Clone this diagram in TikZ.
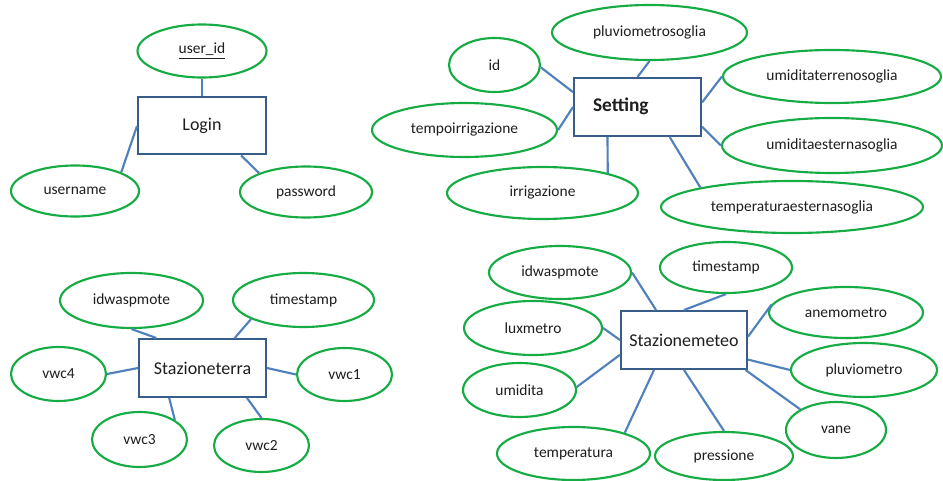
\documentclass[tikz,border=0pt]{standalone}
\usepackage{fontspec}
\setmainfont{Carlito}
\usetikzlibrary{shapes.geometric}
\definecolor{attrgreen}{RGB}{22,172,68}
\definecolor{linkblue}{RGB}{79,129,189}
\definecolor{boxblue}{RGB}{56,93,138}
\definecolor{txt}{RGB}{30,30,30}
\tikzset{
  attr/.style 2 args={ellipse, draw=attrgreen, line width=1.6pt, fill=white,
    minimum width=#1*0.75pt, minimum height=#2*0.75pt, inner sep=0pt,
    font=\fontsize{11.6}{13}\selectfont, text=txt},
  entity/.style={rectangle, draw=boxblue, line width=1.5pt, fill=white,
    minimum width=126*0.75pt, minimum height=57*0.75pt, inner sep=0pt,
    font=\fontsize{13.5}{15}\selectfont, text=txt},
  link/.style={draw=linkblue, line width=1.6pt}
}
\begin{document}
\begin{tikzpicture}[x=0.75pt,y=-0.75pt]
\useasboundingbox (0,0) rectangle (943,481);
\fill[white] (0,0) rectangle (943,481);

% ---------- Login ----------
\node[entity, minimum width=128*0.75pt] (login) at (202,126) {Login};
\node[attr={129}{53}] (uid) at (202,51) {\underline{user\_id}};
\node[attr={128}{51}] (uname) at (75,191) {username};
\node[attr={132}{51}] (pwd) at (306,192) {password};
\draw[link] (login.north) -- (uid.south);
\draw[link] (login.west) -- (uname.22);
\draw[link] (login.-37) -- (pwd.158);

% ---------- Setting ----------
\node[entity, minimum width=127*0.75pt, minimum height=58*0.75pt,
  font=\bfseries\fontsize{14.5}{16}\selectfont] (set) at (637.5,107)
  {\raisebox{3pt}{Setting}\kern25pt\relax};
\node[attr={195}{55}] (pluvs) at (649.5,32.5) {pluviometrosoglia};
\node[attr={91}{54}] (sid) at (494.5,65) {id};
\node[attr={185}{54}] (tempo) at (464.5,130) {tempoirrigazione};
\node[attr={191}{52}] (irr) at (542.5,193) {irrigazione};
\node[attr={218}{53}] (umt) at (832,76.5) {umiditaterrenosoglia};
\node[attr={220}{55}] (ume) at (832,145.5) {umiditaesternasoglia};
\node[attr={262}{52}] (tes) at (792,207) {temperaturaesternasoglia};
\draw[link] (set.167) -- (sid.-3);
\draw[link] (set.north) -- (pluvs.south);
\draw[link] (set.west) -- (tempo.east);
\draw[link] (set.-135) -- (irr.17);
\draw[link] (set.4) -- (umt.west);
\draw[link] (set.-17) -- (ume.west);
\draw[link] (set.-43) -- (tes.168);

% ---------- Stazioneterra ----------
\node[entity, minimum width=127*0.75pt, minimum height=58*0.75pt] (st) at (202.5,368) {Stazioneterra};
\node[attr={143}{55}] (stid) at (131.5,300.5) {idwaspmote};
\node[attr={141}{54}] (stts) at (303.5,300) {timestamp};
\node[attr={95}{54}] (v4) at (58.5,374) {vwc4};
\node[attr={95}{53}] (v1) at (344.5,374.5) {vwc1};
\node[attr={95}{55}] (v3) at (139.5,439.5) {vwc3};
\node[attr={95}{53}] (v2) at (261.5,445.5) {vwc2};
\draw[link] (st.147) -- (stid.south);
\draw[link] (st.43) -- (stts.200);
\draw[link] (st.west) -- (v4.east);
\draw[link] (st.east) -- (v1.west);
\draw[link] (st.-138) -- (v3.29);
\draw[link] (st.-34) -- (v2.north);

% ---------- Stazionemeteo ----------
\node[entity, minimum width=126*0.75pt, minimum height=58*0.75pt] (sm) at (684,340) {Stazionemeteo};
\node[attr={142}{53}] (smid) at (560,272.5) {idwaspmote};
\node[attr={132}{51}] (smts) at (726,267.5) {timestamp};
\node[attr={154}{51}] (anem) at (846,312.5) {anemometro};
\node[attr={138}{54}] (lux) at (533,328) {luxmetro};
\node[attr={113}{54}] (umi) at (519.5,390) {umidita};
\node[attr={146}{54}] (pluv) at (864,370) {pluviometro};
\node[attr={100}{56}] (vane) at (836,430) {vane};
\node[attr={153}{53}] (temp) at (573.5,453.5) {temperatura};
\node[attr={138}{48}] (pres) at (724,456) {pressione};
\draw[link] (sm.133) -- (smid.east);
\draw[link] (sm.north) -- (smts.south);
\draw[link] (sm.3) -- (anem.174);
\draw[link] (sm.west) -- (lux.east);
\draw[link] (sm.193) -- (umi.3);
\draw[link] (sm.-17) -- (pluv.west);
\draw[link] (sm.-26) -- (vane.150);
\draw[link] (sm.south) -- (pres.north);
\draw[link] (sm.-135) -- (temp.22);
\end{tikzpicture}
\end{document}
